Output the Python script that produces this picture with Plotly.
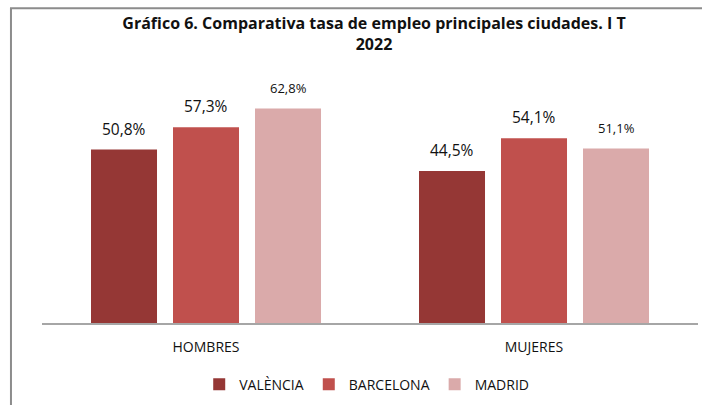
import plotly.graph_objects as go

categories = ["HOMBRES", "MUJERES"]
cities = ["VALÈNCIA", "BARCELONA", "MADRID"]
valencia = [50.8, 44.5]
barcelona = [57.3, 54.1]
madrid = [62.8, 51.1]
series_values = [valencia, barcelona, madrid]
colors = ["#953735", "#C0504D", "#DAAAAA"]
label_sizes = [15.5, 15.5, 13]

W, H = 702, 405
ML, MR, MT, MB = 42, 4, 84, 73
BARGAP = 0.25
GROUPGAP = 0.195

fig = go.Figure()
for name, vals, col in zip(cities, series_values, colors):
    fig.add_trace(go.Bar(x=categories, y=vals, name=name, marker_color=col,
                         marker_line_width=0))

plot_w = W - ML - MR
cat_px = plot_w / len(categories)
slot = cat_px * (1 - BARGAP) / len(cities)
annotations = []
for i, (vals, fs) in enumerate(zip(series_values, label_sizes)):
    for c, v in zip(categories, vals):
        annotations.append(dict(
            x=c, y=v, xref="x", yref="y",
            text=f"{v:.1f}%".replace(".", ","),
            showarrow=False, xshift=(i - 1) * slot, yshift=21,
            yanchor="middle", font=dict(family="Open Sans", size=fs, color="#111"),
        ))

fig.update_layout(
    width=W, height=H,
    margin=dict(l=ML, r=MR, t=MT, b=MB),
    paper_bgcolor="white", plot_bgcolor="white",
    barmode="group", bargap=BARGAP, bargroupgap=GROUPGAP,
    font=dict(family="Open Sans", color="#111"),
    title=dict(
        text="<b>Gráfico 6. Comparativa tasa de empleo principales ciudades. I T<br>2022</b>",
        x=374 / W, xanchor="center", xref="container",
        y=1 - 29 / H, yanchor="middle", yref="container",
        font=dict(family="Open Sans", size=16, color="#111"),
    ),
    xaxis=dict(showline=True, linecolor="#A6A6A6", linewidth=1.5,
               showgrid=False, ticks="", tickfont=dict(size=14, color="#111"),
               ticklabelstandoff=10, range=[-0.5, 1.5]),
    yaxis=dict(range=[0, 70], visible=False, showgrid=False, zeroline=False),
    showlegend=True,
    legend=dict(orientation="h", x=0.495, xanchor="center", y=-0.258, yanchor="middle",
                font=dict(size=14, color="#111"), itemwidth=30,
                traceorder="normal"),
    annotations=annotations,
    shapes=[dict(type="rect", xref="paper", yref="paper",
                 x0=-0.0473, x1=1.2, y0=-0.6, y1=1.3165,
                 line=dict(color="#8C8C8C", width=2), layer="below")],
)

fig.write_html("out.html", config={"displayModeBar": False},
               post_script="document.body.style.margin='0';document.body.style.overflow='hidden';")
